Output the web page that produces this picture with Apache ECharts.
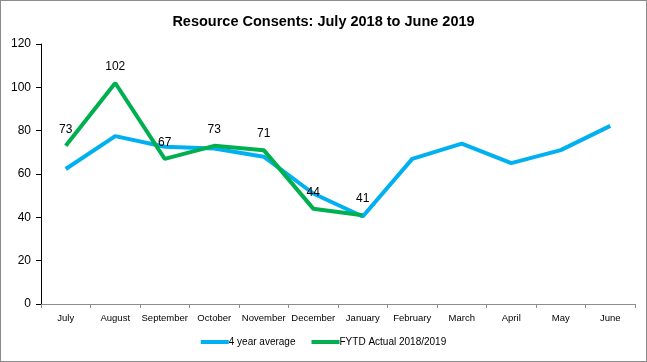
<!DOCTYPE html>
<html>
<head>
<meta charset="utf-8">
<script src="https://cdn.jsdelivr.net/npm/echarts@6/dist/echarts.min.js"></script>
<style>
html,body{margin:0;padding:0;background:#fff;}
#c{width:645px;height:360px;border:1px solid #8c8c8c;}
</style>
</head>
<body>
<div id="c"></div>
<script>
var categories = ['July','August','September','October','November','December','January','February','March','April','May','June'];
var avgValues = [62.3, 77.5, 72.6, 71.8, 68, 51, 40.4, 67, 74, 65, 71, 82.2];
var actualValues = [73, 102, 67, 73, 71, 44, 41];
var yTicks = {min: 0, max: 120, interval: 20};

var chart = echarts.init(document.getElementById('c'));
chart.setOption({
  animation: false,
  title: {
    text: 'Resource Consents: July 2018 to June 2019',
    left: 'center', top: 8,
    textStyle: {fontFamily: 'Liberation Sans', fontWeight: 'bold', fontSize: 14.5, color: '#000'}
  },
  grid: {left: 40, right: 11, top: 43, bottom: 57},
  legend: {
    bottom: 9, left: 'center', itemWidth: 28, itemHeight: 4, itemGap: 16,
    icon: 'rect',
    textStyle: {fontFamily: 'Liberation Sans', fontSize: 10, color: '#000', padding: [0,0,0,-5]},
    data: ['4 year average', 'FYTD Actual 2018/2019']
  },
  xAxis: {
    type: 'category', data: categories, boundaryGap: true,
    axisLine: {lineStyle: {color: '#8c8c8c', width: 1}},
    axisTick: {show: true, length: 4, lineStyle: {color: '#8c8c8c'}},
    axisLabel: {fontFamily: 'Liberation Sans', fontSize: 9.5, color: '#000', margin: 9, interval: 0}
  },
  yAxis: {
    type: 'value', min: yTicks.min, max: yTicks.max, interval: yTicks.interval,
    axisLine: {show: true, lineStyle: {color: '#000', width: 1}},
    axisTick: {show: true, length: 5, lineStyle: {color: '#000'}},
    splitLine: {show: false},
    axisLabel: {fontFamily: 'Liberation Sans', fontSize: 12, color: '#000', margin: 10}
  },
  series: [
    {
      name: '4 year average', type: 'line', data: avgValues,
      symbol: 'none', lineStyle: {color: '#00b0f0', width: 4}, itemStyle: {color: '#00b0f0'}
    },
    {
      name: 'FYTD Actual 2018/2019', type: 'line', data: actualValues,
      symbol: 'circle', symbolSize: 0, showSymbol: true,
      lineStyle: {color: '#00b050', width: 4}, itemStyle: {color: '#00b050'},
      label: {show: true, position: 'top', distance: 10, fontFamily: 'Liberation Sans', fontSize: 12, color: '#000'}
    }
  ]
});
</script>
</body>
</html>
